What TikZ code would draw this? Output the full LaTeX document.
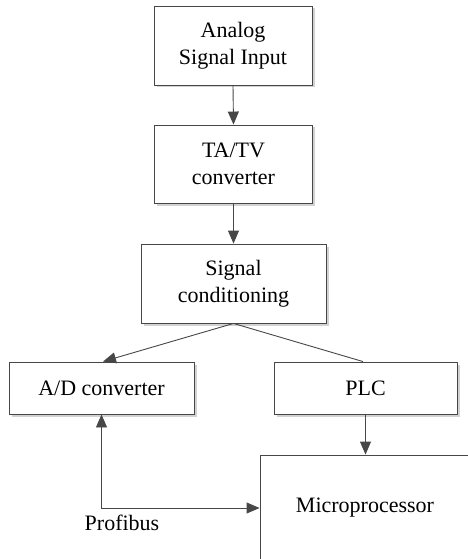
\documentclass[tikz,border=0pt]{standalone}
\usepackage{fontspec}
\setmainfont{Liberation Serif}
\usetikzlibrary{arrows.meta,shadows}
\begin{document}
\begin{tikzpicture}[x=1pt,y=-1pt,
  box/.style={draw=black!72, line width=0.9pt, fill=white,
    drop shadow={shadow xshift=2.5pt, shadow yshift=-2.5pt, fill=black!25, opacity=0.7},
    align=center, inner sep=0pt,
    font=\fontsize{22}{27}\selectfont},
  link/.style={draw=black!72, line width=0.9pt},
  head/.style={Triangle[length=13pt,width=11pt]},
  tip/.style={-{Triangle[length=13pt,width=11pt]}}]
  \useasboundingbox (0,0) rectangle (468,559);
  \clip (0,0) rectangle (468,559);

  % processing chain
  \node[box, minimum width=158pt, minimum height=79pt] (inp) at (233,45.5) {Analog\\Signal Input};
  \node[box, minimum width=158pt, minimum height=78pt] (conv) at (233.5,164) {TA/TV\\converter};
  \node[box, minimum width=185pt, minimum height=79pt] (cond) at (233.5,283.5) {Signal\\conditioning};
  \node[box, minimum width=185pt, minimum height=52pt] (ad) at (101.5,388) {A/D converter};
  \node[box, minimum width=183pt, minimum height=52pt] (plc) at (365.5,388) {PLC};
  \node[box, minimum width=210pt, minimum height=106pt] (mcu) at (365,508) {Microprocessor};

  % connectors
  \draw[link, tip] (inp.south) -- (conv.north);
  \draw[link, tip] (conv.south) -- (cond.north);
  \draw[link, tip] (cond.south) -- ([xshift=1.5pt]ad.north);
  \draw[link] (cond.south) -- ([xshift=-2.5pt]plc.north);
  \draw[link, tip] (plc.south) -- (plc.south |- mcu.north);
  \coordinate (bend) at (ad.south |- mcu.west);
  \draw[link, {Triangle[length=13pt,width=11pt]}-{Triangle[length=13pt,width=11pt]}]
    (ad.south) -- (bend) -- (mcu.west);
  \node[font=\fontsize{22}{27}\selectfont] (bus) at (122,523) {Profibus};
\end{tikzpicture}
\end{document}
